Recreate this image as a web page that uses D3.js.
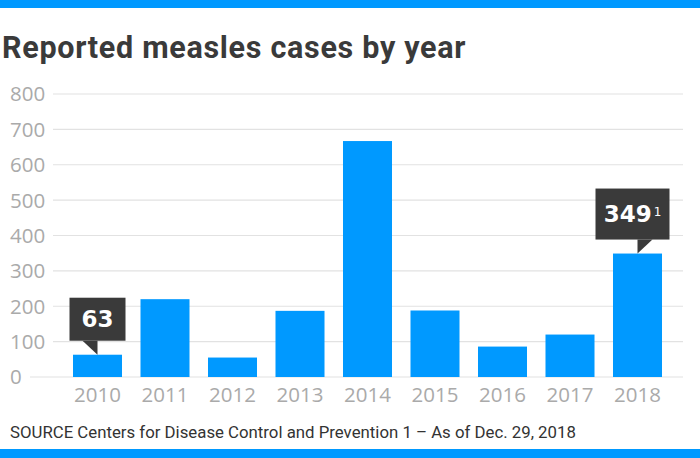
<!DOCTYPE html>
<html><head><meta charset="utf-8">
<script src="https://cdn.jsdelivr.net/npm/d3@7"></script>
<style>body{margin:0;background:#fff}svg{display:block}</style>
</head><body>
<script>
const years = ["2010","2011","2012","2013","2014","2015","2016","2017","2018"];
const cases = [63, 220, 55, 187, 667, 188, 86, 120, 349];
const yTicks = [0,100,200,300,400,500,600,700,800];
const callouts = [{year:"2010", label:"63", sup:"", side:"left"},{year:"2018", label:"349", sup:"1", side:"right"}];
const title = "Reported measles cases by year";
const footer = "SOURCE Centers for Disease Control and Prevention 1 – As of Dec. 29, 2018";

const W=700,H=458, blue="#0099ff";
const svg=d3.select("body").append("svg").attr("width",W).attr("height",H);
svg.append("rect").attr("x",0).attr("y",0).attr("width",W).attr("height",8).attr("fill",blue);
svg.append("rect").attr("x",0).attr("y",449).attr("width",W).attr("height",9).attr("fill",blue);

svg.append("text").attr("x",2).attr("y",58).text(title)
  .attr("font-family","Roboto").attr("font-weight",700).attr("font-size",30.5)
  .attr("letter-spacing",0.7).attr("fill","#3a3a3a");

const x=d3.scaleBand().domain(years).range([63.75,671.25]).paddingInner(0.274).paddingOuter(0.137);
const y=d3.scaleLinear().domain([0,800]).range([377,94]);

const g=svg.append("g");
g.selectAll("line.grid").data(yTicks).join("line")
  .attr("x1",d=>d===0?30:53).attr("x2",683)
  .attr("y1",d=>y(d)).attr("y2",d=>y(d))
  .attr("stroke","#e2e2e2").attr("stroke-width",1.2);
g.selectAll("text.yl").data(yTicks).join("text")
  .attr("x",10).attr("y",d=>y(d)).attr("dy","0.36em").text(d=>d)
  .attr("font-family","Open Sans").attr("font-size",20.5).attr("fill","#aaaaaa");

g.selectAll("rect.bar").data(years).join("rect")
  .attr("x",d=>x(d)).attr("width",x.bandwidth())
  .attr("y",(d,i)=>y(cases[i])).attr("height",(d,i)=>y(0)-y(cases[i]))
  .attr("fill",blue);

g.selectAll("text.xl").data(years).join("text")
  .attr("x",d=>x(d)+x.bandwidth()/2).attr("y",402).attr("text-anchor","middle").text(d=>d)
  .attr("font-family","Open Sans").attr("font-size",20.5).attr("fill","#aaaaaa");

callouts.forEach(c=>{
  const i=years.indexOf(c.year), cx=x(c.year)+x.bandwidth()/2, top=y(cases[i]);
  const bh = c.side==="left"?43:51, bw = c.side==="left"?56:74;
  const bottom=top-14, bx = c.side==="left"? cx-28 : cx-42;
  g.append("rect").attr("x",bx).attr("y",bottom-bh).attr("width",bw).attr("height",bh).attr("fill","#3a3a3a");
  const tri = c.side==="left" ? [[cx-15,bottom],[cx,bottom],[cx,top]] : [[cx,bottom],[cx+15,bottom],[cx,top]];
  g.append("path").attr("d","M"+tri.map(p=>p.join(",")).join("L")+"Z").attr("fill","#3a3a3a");
  const t=g.append("text").attr("x",bx+bw/2).attr("y",bottom-bh/2).attr("dy","0.36em").attr("text-anchor","middle")
    .attr("font-family","DejaVu Sans").attr("font-weight",700).attr("font-size",23).attr("fill","#fff").text(c.label);
  if(c.sup) t.append("tspan").attr("dy","-0.5em").attr("dx","2").attr("font-size",12).attr("font-weight",400).text(c.sup);
});

svg.append("text").attr("x",10).attr("y",437.5).text(footer)
  .attr("font-family","Roboto").attr("font-size",16.8).attr("fill","#333");
</script>
</body></html>
